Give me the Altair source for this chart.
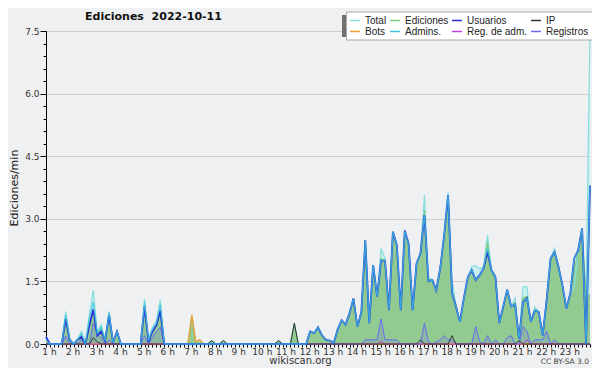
import altair as alt
import pandas as pd

# 10-minute bins from 1 h to 24 h
hours = [1 + i / 6 for i in range(139)]

series_names = ["Total", "Ediciones", "Usuarios", "IP", "Bots", "Admins.", "Reg. de adm.", "Registros"]
series_colors = ["#86dede", "#7ccd7c", "#2a2ad8", "#333333", "#f0a030", "#3cc4dc", "#c040e0", "#6a6af0"]

total = [
    .17, 0, 0, 0, 0, .78,
    .15, 0, .12, .30, .03, .70,
    1.29, .28, .47, .10, .78, .05,
    .30, 0, 0, 0, 0, 0,
    0, 1.07, .10, .40, .55, 1.05,
    0, 0, 0, 0, 0, 0,
    0, .69, .05, .10, 0, 0,
    .08, 0, 0, .08, 0, 0,
    0, 0, 0, 0, 0, 0,
    0, 0, 0, 0, 0, .08,
    0, 0, 0, .50, 0, 0,
    0, .30, .26, .40, .21, .10,
    .08, .03, .35, .57, .46, .74,
    1.09, .41, .77, 2.49, .50, 1.89,
    1.13, 2.29, 2.05, .81, 2.69, 2.37,
    .81, 2.69, 2.33, .81, 1.93, 2.17,
    3.57, 1.61, 1.53, 1.29, 1.81, 2.60,
    3.65, 1.53, .92, .53, 1.10, 1.60,
    1.85, 1.88, 1.80, 1.85, 2.61, 1.77,
    1.61, .50, .90, 1.30, .90, 1.10,
    .12, 1.37, 1.37, .53, .89, .77,
    .20, 1.05, 2.05, 2.29, 1.85, 1.41,
    .85, 1.21, 1.37, 2.25, 2.77, 1.13,
    7.50,
]

ediciones = [
    .17, 0, 0, 0, 0, .60,
    .10, 0, .10, .20, .03, .50,
    .80, .22, .40, .08, .70, .03,
    .30, 0, 0, 0, 0, 0,
    0, .85, .05, .30, .45, .80,
    0, 0, 0, 0, 0, 0,
    0, .65, .03, .05, 0, 0,
    .08, 0, 0, .08, 0, 0,
    0, 0, 0, 0, 0, 0,
    0, 0, 0, 0, 0, .08,
    0, 0, 0, .50, 0, 0,
    0, .30, .26, .40, .21, .10,
    .08, .03, .35, .57, .46, .74,
    1.09, .41, .77, 2.49, .50, 1.89,
    1.13, 2.05, 2.00, .81, 2.69, 2.37,
    .81, 2.69, 2.33, .81, 1.93, 2.17,
    3.20, 1.55, 1.53, 1.29, 1.81, 2.60,
    3.50, 1.30, .90, .53, 1.10, 1.60,
    1.77, 1.53, 1.65, 1.81, 2.45, 1.77,
    1.61, .50, .90, 1.30, .90, 1.00,
    .12, 1.10, 1.15, .53, .82, .77,
    .20, 1.05, 2.05, 2.22, 1.85, 1.41,
    .85, 1.21, 1.80, 2.25, 2.77, 1.10,
    1.20,
]

usuarios = [
    .17, 0, 0, 0, 0, .60,
    .10, 0, .10, .17, 0, .45,
    .83, .20, .30, .08, .70, .03,
    .30, 0, 0, 0, 0, 0,
    0, .90, .05, .30, .45, .80,
    0, 0, 0, 0, 0, 0,
    0, 0, 0, 0, 0, 0,
    0, 0, 0, 0, 0, 0,
    0, 0, 0, 0, 0, 0,
    0, 0, 0, 0, 0, 0,
    0, 0, 0, 0, 0, 0,
    0, .30, .26, .40, .21, .10,
    .08, .03, .35, .57, .46, .74,
    1.09, .41, .77, 2.49, .50, 1.89,
    1.13, 2.00, 2.00, .81, 2.69, 2.37,
    .81, 2.72, 2.40, .81, 1.93, 2.17,
    3.09, 1.50, 1.53, 1.29, 1.81, 2.60,
    3.57, 1.22, .90, .53, 1.10, 1.60,
    1.77, 1.53, 1.65, 1.81, 2.21, 1.77,
    1.61, .50, .90, 1.30, .90, .95,
    .12, 1.00, 1.10, .53, .80, .77,
    .20, 1.05, 2.05, 2.20, 1.85, 1.41,
    .85, 1.21, 2.05, 2.25, 2.77, 0,
    3.80,
]

admins = [
    .10, 0, 0, 0, 0, .70,
    .12, 0, .10, .25, 0, .60,
    1.00, .25, .40, .08, .75, .03,
    .30, 0, 0, 0, 0, 0,
    0, 1.00, .08, .35, .50, .95,
    0, 0, 0, 0, 0, 0,
    0, 0, 0, 0, 0, 0,
    0, 0, 0, 0, 0, 0,
    0, 0, 0, 0, 0, 0,
    0, 0, 0, 0, 0, 0,
    0, 0, 0, 0, 0, 0,
    0, .30, .26, .40, .21, .10,
    .08, .03, .35, .57, .46, .74,
    1.09, .41, .77, 2.49, .50, 1.89,
    1.13, 2.00, 2.00, .81, 2.69, 2.37,
    .81, 2.70, 2.38, .81, 1.93, 2.17,
    3.09, 1.50, 1.53, 1.29, 1.81, 2.60,
    3.57, 1.22, .90, .53, 1.10, 1.60,
    1.77, 1.53, 1.65, 1.81, 2.30, 1.77,
    1.61, .50, .90, 1.30, .90, .95,
    .12, 1.00, 1.10, .53, .80, .77,
    .20, 1.05, 2.05, 2.20, 1.85, 1.41,
    .85, 1.21, 2.05, 2.25, 2.77, 0,
    3.80,
]

ip = [0] * 139
for k, v in {12: .15, 13: .05, 42: .08, 45: .08, 59: .08, 63: .50, 95: .10, 103: .20, 120: .08}.items():
    ip[k] = v

bots = [0] * 139
for k, v in {37: .69, 38: .05, 39: .10}.items():
    bots[k] = v

reg_adm = [0] * 139
for k, v in {85: .06, 122: .10}.items():
    reg_adm[k] = v

registros = [0] * 139
for k, v in {5: .19, 9: .10, 12: .50, 13: .25, 14: .15, 16: .10, 25: .20, 27: .15, 28: .30, 29: .40,
             81: .10, 82: .10, 83: .10, 84: .10, 85: .60, 86: .10, 87: .10, 88: .10, 89: .10,
             96: .50, 97: .05, 99: .05, 100: .10, 101: .20, 102: .10, 103: .10,
             109: .42, 110: .06, 112: .20, 114: .10, 117: .15, 118: .20, 121: .42, 122: .30,
             124: .10, 125: .10, 126: .10, 127: .30, 129: .10}.items():
    registros[k] = v

values = {
    "Total": total, "Ediciones": ediciones, "Usuarios": usuarios, "IP": ip,
    "Bots": bots, "Admins.": admins, "Reg. de adm.": reg_adm, "Registros": registros,
}

rows = []
for name in series_names:
    for t, v in zip(hours, values[name]):
        rows.append({"t": t, "serie": name, "v": v})
df = pd.DataFrame(rows)

FONT = "DejaVu Sans"
x_ticks = [round(1 + k / 6, 4) for k in range(139)]
y_ticks = [round(0.3 * k, 2) for k in range(26)]
major = "abs(datum.value/1.5 - round(datum.value/1.5)) < 0.01"

x_enc = alt.X(
    "t:Q",
    scale=alt.Scale(domain=[1, 24], nice=False, zero=False),
    axis=alt.Axis(
        values=x_ticks, title=None, grid=False,
        labelExpr="abs(datum.value - round(datum.value)) < 0.01 && datum.value < 23.5 ? round(datum.value) + ' h' : ''",
        labelOverlap=False, labelFlush=False, labelOffset=3, labelPadding=0,
        tickSize=3, tickColor="#000", domainColor="#000",
        labelFont=FONT, labelFontSize=9, labelColor="#333",
    ),
)
y_enc = alt.Y(
    "v:Q",
    scale=alt.Scale(domain=[0, 7.5], nice=False),
    axis=alt.Axis(
        values=y_ticks, title="Ediciones/min",
        labelExpr=major + " ? format(datum.value, '.1f') : ''",
        labelOverlap=False, labelFlush=False, labelPadding=1,
        tickSize={"condition": {"test": major, "value": 6}, "value": 3},
        tickColor="#000", domainColor="#000",
        grid=True,
        gridColor={"condition": {"test": major, "value": "#cfcfcf"}, "value": "transparent"},
        labelFont=FONT, labelFontSize=9, labelColor="#333",
        titleFont=FONT, titleFontSize=11, titleFontWeight="normal", titleColor="#111",
        titleX=-27, titleY=156.5, titleAngle=-90, titleAlign="center", titleBaseline="bottom",
    ),
)

color_scale = alt.Scale(domain=series_names, range=series_colors)
legend = alt.Legend(
    title=None, orient="none", legendX=300, legendY=-19.5, direction="horizontal", columns=4,
    symbolType="stroke", symbolSize=100, symbolStrokeWidth=1.5,
    labelFont="Liberation Sans", labelFontSize=10, labelColor="#222",
    fillColor="white", strokeColor="#aaaaaa", padding=3, rowPadding=0,
    columnPadding=0, labelOffset=4, gridAlign="each", labelLimit=200,
)

base = alt.Chart(df)

def area(name, color, opacity=1.0):
    return base.transform_filter(alt.datum.serie == name).mark_area(
        color=color, opacity=opacity, interpolate="linear"
    ).encode(x=x_enc, y=y_enc)

def line(name, width, opacity=1.0):
    return base.transform_filter(alt.datum.serie == name).mark_line(
        strokeWidth=width, interpolate="linear", opacity=opacity
    ).encode(x=x_enc, y=y_enc, color=alt.Color("serie:N", scale=color_scale, legend=legend))

shadow = alt.Chart(pd.DataFrame({"a": [0]})).mark_rect(color="#707070").encode(
    x=alt.value(296), x2=alt.value(541), y=alt.value(-16), y2=alt.value(6)
)
ttl = alt.Chart(pd.DataFrame({"txt": ["Ediciones\u00a0\u00a02022-10-11"]})).mark_text(
    font=FONT, fontSize=11, fontWeight="bold", color="#111", align="center", baseline="middle"
).encode(text="txt:N", x=alt.value(107.5), y=alt.value(-14.5))
site = alt.Chart(pd.DataFrame({"txt": ["wikiscan.org"]})).mark_text(
    font=FONT, fontSize=10, color="#333", align="center", baseline="middle"
).encode(text="txt:N", x=alt.value(254.5), y=alt.value(330))
lic = alt.Chart(pd.DataFrame({"txt": ["CC BY-SA 3.0"]})).mark_text(
    font=FONT, fontSize=7.5, color="#444", align="right", baseline="middle"
).encode(text="txt:N", x=alt.value(543), y=alt.value(331))

chart = alt.layer(
    area("Total", "#c9efef"),
    area("Ediciones", "#92cb92"),
    area("Registros", "#6a6af0", 0.2),
    line("Total", 1.2),
    line("Ediciones", 1.0),
    line("Bots", 1.3),
    line("Reg. de adm.", 1.0),
    line("Registros", 1.0),
    line("IP", 1.0),
    line("Usuarios", 1.8),
    line("Admins.", 1.3, 0.8),
    shadow, ttl, site, lic,
).properties(
    width=544, height=313,
    autosize=alt.AutoSizeParams(type="none"),
    padding={"left": 38, "top": 23, "right": 2, "bottom": 24},
    background="#eff0f1",
).configure_view(stroke=None)

chart.save("out.html", embed_options={"renderer": "svg", "actions": False})
